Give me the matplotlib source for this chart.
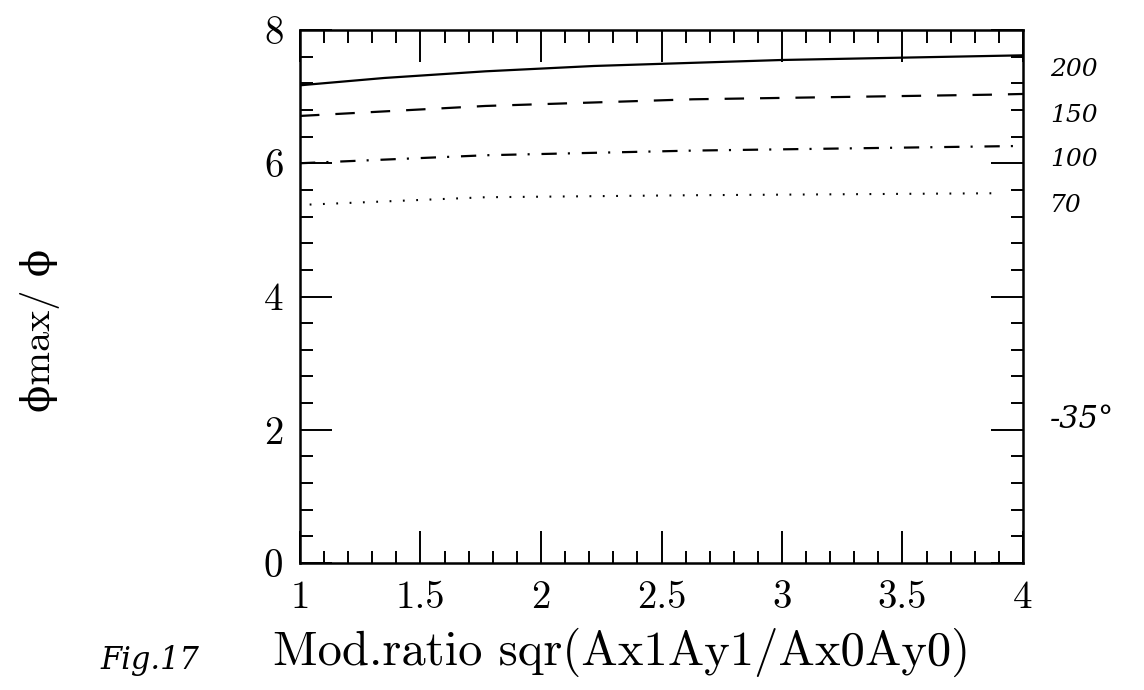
#Phi max / phi versus modulation ratio, four curves labelled by hand (Fig. 17).

import matplotlib
matplotlib.use('Agg')
import matplotlib.pyplot as plt
from matplotlib.ticker import MultipleLocator, FuncFormatter

# curves (values relative to the frame)
x_200 = [1.0, 1.35, 1.77, 2.22, 3.0, 4.0]
y_200 = [7.17, 7.28, 7.38, 7.46, 7.55, 7.62]
x_150 = [1.0, 1.77, 2.63, 3.88, 4.0]
y_150 = [6.71, 6.86, 6.96, 7.03, 7.04]
x_100 = [1.0, 1.77, 2.63, 4.0]
y_100 = [6.0, 6.12, 6.19, 6.26]
x_70 = [1.04, 1.77, 2.63, 3.9]
y_70 = [5.38, 5.49, 5.52, 5.55]

hand_labels = ['200', '150', '100', '70', '-35°']
hand_label_y = [70, 115, 160, 205, 420]   # pixel rows of the handwritten notes

plt.rcParams['lines.scale_dashes'] = False
plt.rcParams['axes.formatter.use_mathtext'] = True

fig = plt.figure(figsize=(11.44, 6.9), dpi=100)
ax = fig.add_axes([300 / 1144, 1 - 563 / 690, 723 / 1144, 533 / 690])

ax.plot(x_200, y_200, color='black', lw=1.6, linestyle='-')
ax.plot(x_150, y_150, color='black', lw=1.6, dashes=(14, 11.5))
ax.plot(x_100, y_100, color='black', lw=1.6, dashes=(11, 8, 1.5, 8.5))
ax.plot(x_70, y_70, color='black', lw=1.5, dashes=(1.3, 8.3))

ax.set_xlim(1, 4)
ax.set_ylim(0, 8)
ax.xaxis.set_major_locator(MultipleLocator(0.5))
ax.xaxis.set_minor_locator(MultipleLocator(0.1))
ax.yaxis.set_major_locator(MultipleLocator(2))
ax.yaxis.set_minor_locator(MultipleLocator(0.4))
fmt = FuncFormatter(lambda v, p: f'{v:g}')
ax.xaxis.set_major_formatter(fmt)
ax.yaxis.set_major_formatter(fmt)

ax.tick_params(which='both', direction='in', top=True, right=True, width=1.4)
ax.tick_params(which='major', length=23, labelsize=28)
ax.tick_params(axis='x', which='major', pad=12)
ax.tick_params(axis='y', which='major', pad=12)
ax.tick_params(which='minor', length=9)
for lab in ax.get_xticklabels() + ax.get_yticklabels():
    lab.set_family('cmr10')
for s in ax.spines.values():
    s.set_linewidth(1.8)

fig.text(622 / 1144, 1 - 652 / 690, 'Mod.ratio sqr(Ax1Ay1/Ax0Ay0)',
         family=['cmr10', 'DejaVu Serif'], fontsize=35,
         ha='center', va='center')
fig.text(40 / 1144, 1 - 330 / 690, 'ϕmax/ ϕ',
         family=['cmr10', 'DejaVu Serif'], fontsize=29,
         rotation=90, ha='center', va='center')

for txt, yy in zip(hand_labels, hand_label_y):
    fig.text(1050 / 1144, 1 - yy / 690, txt, fontsize=18 if txt != '-35°' else 22,
             style='italic', family='DejaVu Serif', ha='left', va='center')
fig.text(100 / 1144, 1 - 660 / 690, 'Fig.17', fontsize=22, style='italic',
         family='DejaVu Serif', ha='left', va='center')

fig.savefig('out.png', dpi=100)
